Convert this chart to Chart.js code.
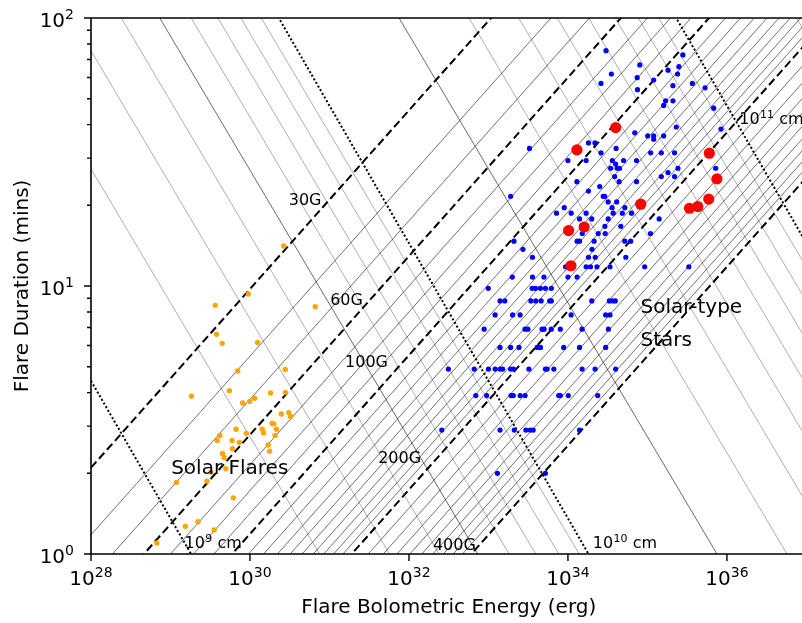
<!DOCTYPE html>
<html><head><meta charset="utf-8">
<script src="https://cdn.jsdelivr.net/npm/chart.js@4/dist/chart.umd.min.js"></script>
<style>html,body{margin:0;padding:0;overflow:hidden;background:#fff}</style>
</head><body>
<canvas id="c" width="812" height="623"></canvas>
<script>
// ---------------- data ----------------
// Solar flares: log10 energy (erg) and duration (min)
const solarLogE = [30.425,29.979,29.563,29.579,29.65,30.096,29.846,30.444,29.263,29.741,30.259,30.446,29.909,29.996,30.059,30.394,30.488,30.509,30.279,30.3,30.334,30.154,30.171,30.316,29.825,29.954,29.621,29.588,29.775,29.866,30.229,30.246,29.779,29.654,29.675,29.696,29.509,29.459,29.075,29.791,29.346,29.188,29.55,28.829,30.821];
const solarDur  = [14.1,9.34,8.47,6.6,6.11,6.16,4.82,4.88,3.88,4.07,3.99,4.01,3.66,3.71,3.81,3.33,3.37,3.26,3.07,3.06,2.92,2.92,2.83,2.77,2.92,2.82,2.77,2.65,2.65,2.61,2.55,2.42,2.47,2.37,2.29,2.08,2.02,1.87,1.85,1.62,1.32,1.27,1.23,1.1,8.37];

// Superflares on solar-type stars, grouped by duration row (min)
const starRowDur = [75.5,72.8,66.8,65.8,63.9,61.8,59.9,58.7,57.0,55.9,54.9,54.0,49.1,47.2,46.1,39.2,38.5,37.3,36.3,35.3,34.2,32.6,31.4,29.4,28.5,27.5,26.5,25.6,24.5,23.5,22.6,21.6,20.6,19.6,18.7,17.8,16.7,15.7,14.7,13.7,12.8,11.8,10.8,9.8,8.8,7.8,6.9,5.9,4.9,3.9,2.9,2.0];
const starRowLogE = [
 [34.479],[35.446],[34.904],[35.396],[35.259],[34.546,35.379],[34.871],[35.079],[34.416,35.566],[35.321],[35.725],[34.875],
 [35.229,35.321],[35.204],[35.834],[35.363],[35.925],[34.841],[35.004,35.079,35.204],[35.079],[34.259,34.341],[33.516,34.606],
 [34.416,35.041,35.175,35.341],[34.0,34.229,34.559,34.7,34.863],[34.6],[34.538,34.619,34.65,35.384,35.859],[35.259],
 [34.588,35.175,35.341],[34.113,34.644,34.863],[34.4],[34.259],[33.279,34.444,34.463],[34.506,34.613],[33.954,34.556,34.716],
 [33.856,34.041,34.229,34.569,34.684,34.8],[34.146,34.3,34.506,35.148],[34.465,34.665],[34.181,34.381,34.469,35.038],
 [33.321,34.115,34.146,34.329,34.716,34.79],[33.434,34.303],[33.554,34.259,34.344,34.728],
 [33.971,34.229,34.284,34.365,34.529,34.966,35.521],[33.3,33.554,33.698,34.0,34.115],
 [32.998,33.55,33.591,33.654,33.716,33.791],
 [33.146,33.206,33.534,33.596,33.663,33.771,33.791,34.3,34.521,34.563,34.596],
 [33.084,33.304,33.398,34.04,34.475,34.529],
 [32.946,33.46,33.496,33.675,33.7,33.79,33.904,34.178,34.509],
 [33.146,33.279,33.384,33.613,33.654,33.946,34.146,34.475],
 [32.496,32.821,33.0,33.084,33.146,33.179,33.279,33.316,33.509,33.716,33.738,33.823,34.178,34.341,34.6],
 [32.841,32.978,33.284,33.313,33.399,33.461,33.884,33.904,34.004,34.375],
 [32.413,33.146,33.325,33.471,33.525,33.563,34.146],
 [33.113,33.716]
];

// Highlighted superflares (red)
const redLogE = [34.113,34.6,35.779,35.875,34.916,35.529,35.634,35.771,34.009,34.204,34.038];
const redDur  = [32.2,39.0,31.3,25.1,20.2,19.5,19.8,21.1,16.1,16.6,11.9];

// Scaling-law lines: field strength (G) and loop length (cm)
const fieldDashed = [28.3,60,100,200,400];          // positions of the dashed lines as drawn
const fieldNames  = ['30G','60G','100G','200G','400G'];
const fieldThin = [40,50,70,80,90,110,120,130,140,150,160,170,180,190,220,240,260,280,300,320,340,360,380];
const lengthDotted = [1e9,1e10,1e11];
const lengthThin = [2e9,3e9,4e9,6e9,7e9,8e9,9e9,3e10,4e10,5e10,6e10,7e10,8e10,9e10,2e11,3e11,4e11,5e11,6e11,7e11,8e11,9e11];
const lengthDark = [5e9,2e10];

// axis ticks (log10)
const xMajor = [28,30,32,34,36];
const yMajor = [0,1,2];

// scaling relations (log-log straight lines):
//   constant B :  log tau =  (1/3)(log E - 5 log B - 19.775)
//   constant L :  log tau = -s (log E - 5 log L - c)
const tauB = (E,B) => Math.pow(10, (Math.log10(E) - 5*Math.log10(B) - 19.775)/3);
const tauLthin = (E,L) => Math.pow(10, -0.5*(Math.log10(E) - 5*Math.log10(L) + 15.63));
const tauLdot  = (E,L) => Math.pow(10, -0.5133*(Math.log10(E) - 5*Math.log10(L) + 15.741));
const E_MIN = 1e28, E_MAX = 1e37;

function lineDS(fn, p, color, width, dash, order){
  return {type:'line', data:[{x:E_MIN,y:fn(E_MIN,p)},{x:E_MAX,y:fn(E_MAX,p)}],
    borderColor:color, borderWidth:width, borderDash:dash, pointRadius:0, fill:false,
    tension:0, order:order, borderCapStyle:'butt'};
}

const datasets = [];
datasets.push({type:'scatter', label:'red', data: redLogE.map((e,i)=>({x:10**e,y:redDur[i]})),
  backgroundColor:'#ff0000', borderWidth:0, pointRadius:5.6, order:1});
const starPts = [];
starRowDur.forEach((d,i)=>starRowLogE[i].forEach(e=>starPts.push({x:10**e,y:d})));
datasets.push({type:'scatter', label:'stars', data: starPts, backgroundColor:'#0000ff', borderWidth:0, pointRadius:2.6, order:2});
datasets.push({type:'scatter', label:'sun', data: solarLogE.map((e,i)=>({x:10**e,y:solarDur[i]})),
  backgroundColor:'#ffa500', borderWidth:0, pointRadius:2.7, order:3});
fieldDashed.forEach(B=>datasets.push(lineDS(tauB,B,'#000',2,[8,4],10)));
lengthDotted.forEach(L=>datasets.push(lineDS(tauLdot,L,'#000',2,[2,2.2],11)));
fieldThin.forEach(B=>datasets.push(lineDS(tauB,B,'#111',0.6,[],20)));
lengthDark.forEach(L=>datasets.push(lineDS(tauLthin,L,'#444',0.8,[],21)));
lengthThin.forEach(L=>datasets.push(lineDS(tauLthin,L,'#8c8c8c',0.7,[],22)));

const FONT = '"DejaVu Sans", sans-serif';
const labels = [
  {t:fieldNames[0], E:3.07e30, tau:20.0, s:16},
  {t:fieldNames[1], E:1.02e31, tau:8.5, s:16},
  {t:fieldNames[2], E:1.57e31, tau:5.0, s:16},
  {t:fieldNames[3], E:4.1e31, tau:2.18, s:16},
  {t:fieldNames[4], E:2.0e32, tau:1.035, s:16},
  {t:'Solar Flares', E:1.02e29, tau:1.99, s:20},
  {t:'Solar-type', E:8.2e34, tau:7.95, s:20},
  {t:'Stars', E:8.2e34, tau:5.97, s:20}
];
const lenLabels = [
  {base:'10', exp:'9', tail:' cm', E:1.5e29, tau:1.05},
  {base:'10', exp:'10', tail:' cm', E:2.05e34, tau:1.05},
  {base:'10', exp:'11', tail:' cm', E:1.43e36, tau:40.2}
];

const overlay = {
  id:'overlay',
  afterDatasetsDraw(chart){
    const {ctx, chartArea:a, scales:{x,y}} = chart;
    ctx.save();
    ctx.fillStyle = '#000';
    ctx.textBaseline = 'alphabetic';
    ctx.textAlign = 'left';
    labels.forEach(l=>{
      ctx.font = l.s+'px '+FONT;
      ctx.fillText(l.t, x.getPixelForValue(l.E), y.getPixelForValue(l.tau));
    });
    lenLabels.forEach(l=>{
      let px = x.getPixelForValue(l.E), py = y.getPixelForValue(l.tau);
      ctx.font = '16px '+FONT; ctx.fillText(l.base, px, py); px += ctx.measureText(l.base).width;
      ctx.font = '11px '+FONT; ctx.fillText(l.exp, px+0.5, py-6); px += ctx.measureText(l.exp).width+0.5;
      ctx.font = '16px '+FONT; ctx.fillText(l.tail, px, py);
    });
    // spines
    ctx.strokeStyle = '#000'; ctx.lineWidth = 1.6;
    ctx.beginPath();
    ctx.moveTo(a.left, a.top); ctx.lineTo(a.right+2, a.top);
    ctx.moveTo(a.left, a.top-0.8); ctx.lineTo(a.left, a.bottom+0.8);
    ctx.moveTo(a.left-0.8, a.bottom); ctx.lineTo(a.right+2, a.bottom);
    ctx.stroke();
    // ticks
    ctx.lineWidth = 1.4;
    ctx.beginPath();
    xMajor.forEach(k=>{const px=x.getPixelForValue(10**k); ctx.moveTo(px,a.bottom); ctx.lineTo(px,a.bottom+7);});
    yMajor.forEach(k=>{const py=y.getPixelForValue(10**k); ctx.moveTo(a.left,py); ctx.lineTo(a.left-7,py);});
    for(let d=0; d<2; d++) for(let m=2;m<=9;m++){const py=y.getPixelForValue(m*10**d); ctx.moveTo(a.left,py); ctx.lineTo(a.left-4,py);}
    ctx.stroke();
    // tick labels
    xMajor.forEach(k=>{
      const px=x.getPixelForValue(10**k);
      ctx.font='20px '+FONT; const w1=ctx.measureText('10').width;
      ctx.font='14px '+FONT; const w2=ctx.measureText(String(k)).width;
      const x0 = px-(w1+w2)/2;
      ctx.font='20px '+FONT; ctx.fillText('10', x0, a.bottom+31);
      ctx.font='14px '+FONT; ctx.fillText(String(k), x0+w1, a.bottom+23);
    });
    yMajor.forEach(k=>{
      const py=y.getPixelForValue(10**k);
      ctx.font='20px '+FONT; const w1=ctx.measureText('10').width;
      ctx.font='14px '+FONT; const w2=ctx.measureText(String(k)).width;
      const x1 = a.left-17;
      ctx.font='20px '+FONT; ctx.fillText('10', x1-w1-w2, py+8.5);
      ctx.font='14px '+FONT; ctx.fillText(String(k), x1-w2, py+0.5);
    });
    ctx.restore();
  }
};

new Chart(document.getElementById('c'), {
  type:'scatter',
  data:{datasets},
  plugins:[overlay],
  options:{
    responsive:false, animation:false, devicePixelRatio:1,
    layout:{padding:{top:18,right:1,left:0,bottom:0}},
    plugins:{legend:{display:false}, tooltip:{enabled:false}},
    scales:{
      x:{type:'logarithmic', position:'bottom', min:E_MIN, max:E_MAX,
         afterFit:s=>{s.height=69;},
         ticks:{display:false}, grid:{display:false}, border:{display:false},
         title:{display:true, text:'Flare Bolometric Energy (erg)', color:'#000',
                font:{family:'DejaVu Sans', size:20}, padding:{top:0,bottom:3}}},
      y:{type:'logarithmic', position:'left', min:1, max:100,
         afterFit:s=>{s.width=91;},
         ticks:{display:false}, grid:{display:false}, border:{display:false},
         title:{display:true, text:'Flare Duration (mins)', color:'#000',
                font:{family:'DejaVu Sans', size:20}, padding:{top:11,bottom:0}}}
    }
  }
});
</script>
</body></html>
